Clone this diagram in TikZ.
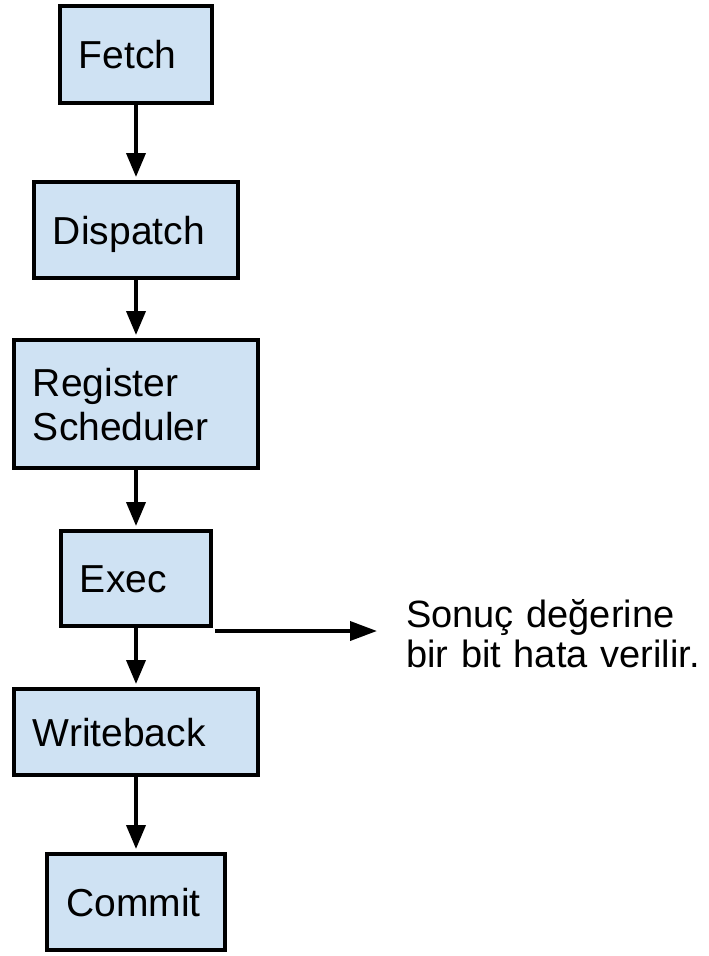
\documentclass[tikz,border=0pt]{standalone}
\usepackage{fontspec}
\setmainfont{Liberation Sans}
\usetikzlibrary{arrows.meta}
\definecolor{boxfill}{HTML}{CFE2F3}
\begin{document}
\begin{tikzpicture}[x=1bp,y=-1bp,
  stage/.style={draw=black, fill=boxfill, line width=4bp, rectangle,
    inner xsep=19bp, inner ysep=0bp, align=left,
    text height=28bp, text depth=0bp,
    font=\fontsize{39bp}{44bp}\selectfont},
  flow/.style={-{Triangle[length=24bp,width=19bp]}, line width=3.8bp, shorten >=3bp}
]
\useasboundingbox (0,0) rectangle (709,956);
\node[stage, minimum width=152bp, minimum height=97bp, text width=114bp] (fetch) at (136,54.5) {Fetch};
\node[stage, minimum width=204bp, minimum height=96bp, text width=166bp] (dispatch) at (136,230) {Dispatch};
\node[stage, minimum width=244bp, minimum height=128bp, text width=206bp, text depth=44bp] (regsched) at (136,404) {Register\\Scheduler};
\node[stage, minimum width=150bp, minimum height=95bp, text width=112bp] (exec) at (136,578.5) {Exec};
\node[stage, minimum width=244bp, minimum height=86bp, text width=206bp] (writeback) at (136,732) {Writeback};
\node[stage, minimum width=177bp, minimum height=96bp, text width=139bp] (commit) at (136,902) {Commit};
\node[inner sep=0pt, anchor=base west, text width=300bp, align=left,
  font=\fontsize{38bp}{40bp}\selectfont] (note) at (406,627) {Sonuç değerine\\bir bit hata verilir.};
\coordinate (errtip) at (377,631);
\draw[flow] (fetch) -- (dispatch);
\draw[flow] (dispatch) -- (regsched);
\draw[flow] (regsched) -- (exec);
\draw[flow] (exec) -- (writeback);
\draw[flow] (writeback) -- (commit);
\draw[-{Triangle[length=27bp,width=19bp]}, line width=3.8bp] ([xshift=2bp]exec.south east |- errtip) -- (errtip);
\end{tikzpicture}
\end{document}
